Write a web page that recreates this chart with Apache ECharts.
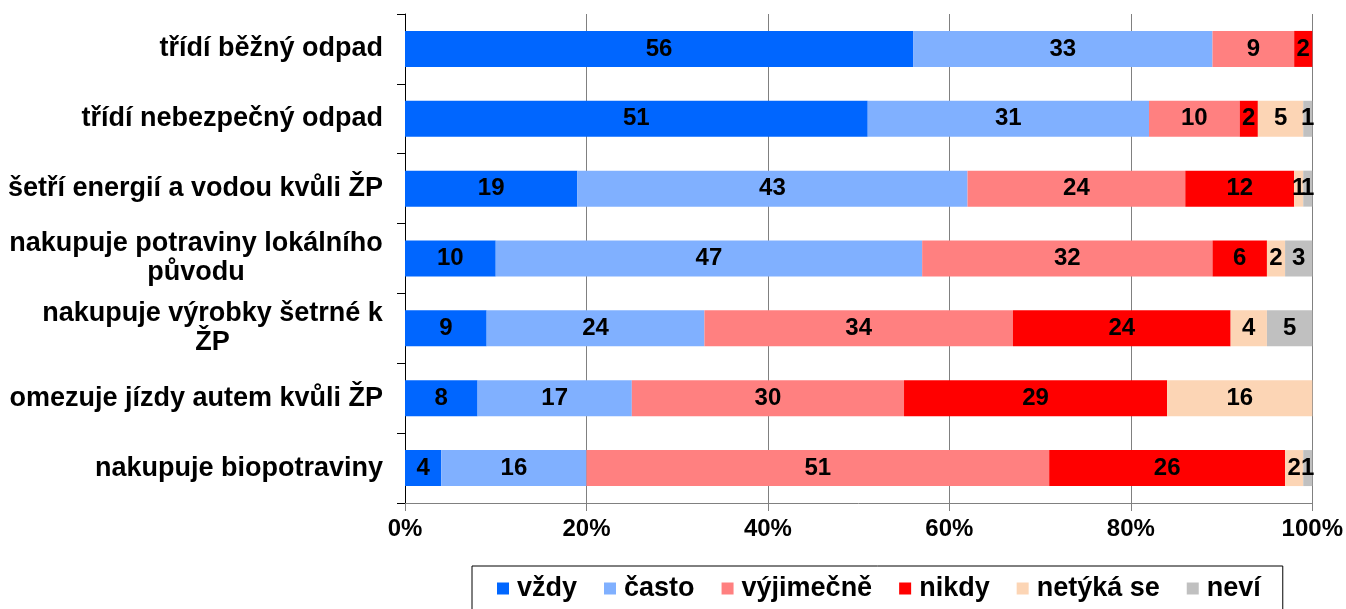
<!DOCTYPE html>
<html>
<head>
<meta charset="utf-8">
<script src="https://cdn.jsdelivr.net/npm/echarts@6/dist/echarts.min.js"></script>
<style>html,body{margin:0;padding:0;background:#fff}#c{width:1346px;height:609px}</style>
</head>
<body>
<div id="c"></div>
<script>
const categories = [
  'třídí běžný odpad',
  'třídí nebezpečný odpad',
  'šetří energií a vodou kvůli ŽP',
  'nakupuje potraviny lokálního\npůvodu',
  'nakupuje výrobky šetrné k\nŽP',
  'omezuje jízdy autem kvůli ŽP',
  'nakupuje biopotraviny'
];
const seriesNames = ['vždy', 'často', 'výjimečně', 'nikdy', 'netýká se', 'neví'];
const vzdy      = [56, 51, 19, 10,  9,  8,  4];
const casto     = [33, 31, 43, 47, 24, 17, 16];
const vyjimecne = [ 9, 10, 24, 32, 34, 30, 51];
const nikdy     = [ 2,  2, 12,  6, 24, 29, 26];
const netyka    = [ 0,  5,  1,  2,  4, 16,  2];
const nevi      = [ 0,  1,  1,  3,  5,  0,  1];
const xTicks = [0, 20, 40, 60, 80, 100];

const colors = ['#0066ff', '#80b0ff', '#ff8080', '#ff0000', '#fcd5b5', '#c0c0c0'];
const FONT = '"Liberation Sans", Arial, sans-serif';
const CAT_SIZE = 27;

// rich styles so that wrapped labels are centered within a right-aligned block
const ctx = document.createElement('canvas').getContext('2d');
ctx.font = 'bold ' + CAT_SIZE + 'px "Liberation Sans"';
const rich = {};
categories.forEach((c, i) => {
  if (c.indexOf('\n') >= 0) {
    const w = Math.max(...c.split('\n').map(l => ctx.measureText(l).width));
    rich['w' + i] = {width: Math.ceil(w), align: 'center', fontSize: CAT_SIZE, fontWeight: 'bold',
      fontFamily: FONT, color: '#000', lineHeight: 29};
  }
});

const allData = [vzdy, casto, vyjimecne, nikdy, netyka, nevi];
const chart = echarts.init(document.getElementById('c'), null, {renderer: 'canvas'});
chart.setOption({
  animation: false,
  color: colors,
  grid: {left: 405, right: 33, top: 14, bottom: 106, containLabel: false},
  legend: {
    data: seriesNames,
    left: 472, top: 566,
    padding: [9, 22, 20, 25],
    borderColor: '#000', borderWidth: 1,
    itemWidth: 12, itemHeight: 12, itemGap: 27,
    icon: 'rect',
    textStyle: {fontSize: 27, fontWeight: 'bold', fontFamily: FONT, color: '#000', padding: [0, 0, 0, 3]}
  },
  xAxis: {
    type: 'value', min: xTicks[0], max: xTicks[xTicks.length - 1], interval: 20,
    axisLine: {show: true, lineStyle: {color: '#808080', width: 1}},
    axisTick: {show: true, length: 8, lineStyle: {color: '#808080'}},
    splitLine: {show: true, lineStyle: {color: '#808080', width: 1}},
    axisLabel: {formatter: '{value}%', fontSize: 24, fontWeight: 'bold', fontFamily: FONT,
      color: '#000', margin: 14}
  },
  yAxis: {
    type: 'category', data: categories, inverse: true,
    axisLine: {show: true, lineStyle: {color: '#000', width: 1}},
    axisTick: {show: true, length: 8, lineStyle: {color: '#000'}},
    axisLabel: {
      fontSize: CAT_SIZE, fontWeight: 'bold', fontFamily: FONT, color: '#000', margin: 22,
      lineHeight: 29, rich: rich,
      formatter: (v, i) => v.indexOf('\n') >= 0 ? v.split('\n').map(l => '{w' + i + '|' + l + '}').join('\n') : v
    }
  },
  series: seriesNames.map((n, k) => ({
    name: n, type: 'bar', stack: 'all', barWidth: 36,
    data: allData[k],
    itemStyle: {color: colors[k]},
    label: {
      show: true, position: 'inside', color: '#000', fontSize: 24, fontWeight: 'bold',
      fontFamily: FONT, formatter: p => p.value > 0 ? String(p.value) : ''
    }
  }))
});
</script>
</body>
</html>
